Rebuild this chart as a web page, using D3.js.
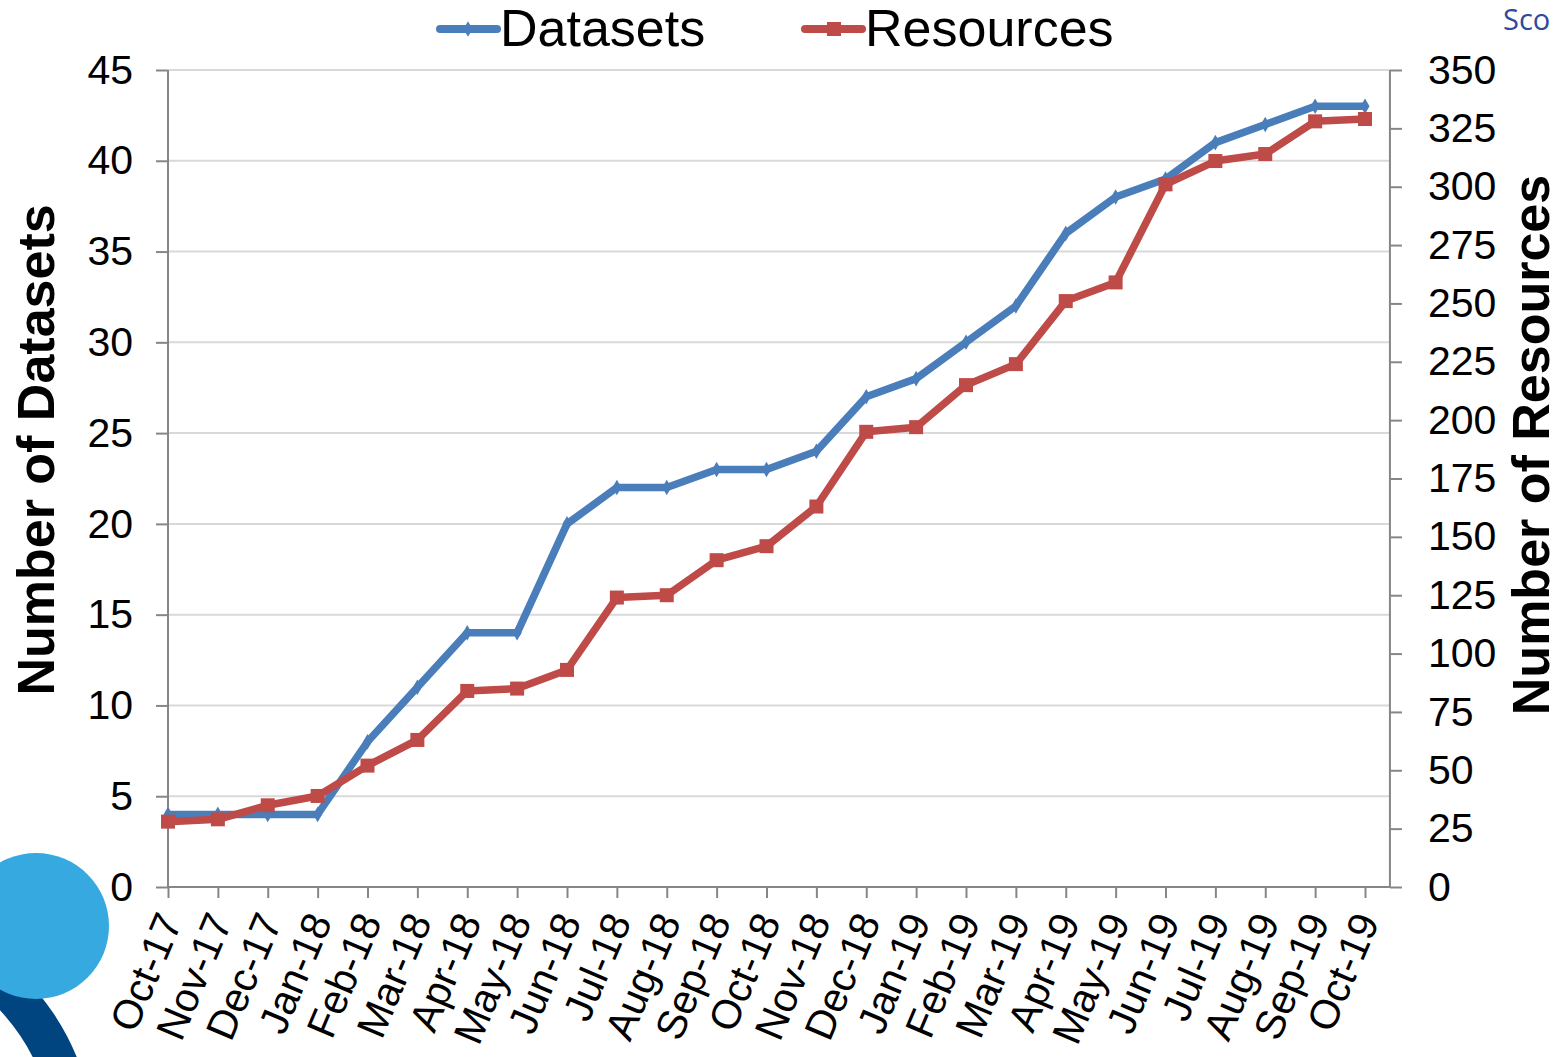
<!DOCTYPE html>
<html>
<head>
<meta charset="utf-8">
<script src="https://cdn.jsdelivr.net/npm/d3@7"></script>
<style>
  html, body { margin: 0; padding: 0; background: #fff; }
  svg { display: block; font-family: "Liberation Sans", Arial, sans-serif; }
</style>
</head>
<body>
<svg id="chart" width="1565" height="1057"></svg>
<script>
const months = ["Oct-17","Nov-17","Dec-17","Jan-18","Feb-18","Mar-18","Apr-18","May-18","Jun-18","Jul-18","Aug-18","Sep-18","Oct-18","Nov-18","Dec-18","Jan-19","Feb-19","Mar-19","Apr-19","May-19","Jun-19","Jul-19","Aug-19","Sep-19","Oct-19"];
const datasets = [4,4,4,4,8,11,14,14,20,22,22,23,23,24,27,28,30,32,36,38,39,41,42,43,43];
const resources = [28,29,35,39,52,63,84,85,93,124,125,140,146,163,195,197,215,224,251,259,301,311,314,328,329];
const leftTicks = [0,5,10,15,20,25,30,35,40,45];
const rightTicks = [0,25,50,75,100,125,150,175,200,225,250,275,300,325,350];
const seriesNames = ["Datasets","Resources"];

const blue = "#4a7ebb", red = "#be4b48";
const svg = d3.select("#chart");

// decorative circles bottom-left
const deco = svg.append("g");
const defs = svg.append("defs");
defs.append("clipPath").attr("id","circClip").append("circle").attr("cx",36).attr("cy",926).attr("r",73);
const ringArc = d3.arc().innerRadius(205).outerRadius(245).startAngle(0).endAngle(Math.PI);
deco.append("path").attr("d", ringArc).attr("transform","translate(-150,1150)").attr("fill","#00457f");
deco.append("circle").attr("cx",36).attr("cy",926).attr("r",73).attr("fill","#35a9e0");
deco.append("path").attr("d", ringArc).attr("transform","translate(-150,1150)").attr("fill","#0a80c4").attr("clip-path","url(#circClip)");

const x = d3.scalePoint().domain(months).range([168, 1365]);
const xRight = x.range()[1] + x.step() / 2;
const yL = d3.scaleLinear().domain([0,45]).range([887,70]);
const yR = d3.scaleLinear().domain([0,350]).range([887,70]);

// gridlines
svg.append("g").selectAll("line").data(leftTicks.slice(1)).join("line")
  .attr("x1",168).attr("x2",xRight).attr("y1",d=>yL(d)).attr("y2",d=>yL(d))
  .attr("stroke","#d9d9d9").attr("stroke-width",2);

// left axis
const gL = svg.append("g").attr("transform","translate(168,0)")
  .call(d3.axisLeft(yL).tickValues(leftTicks).tickSize(12).tickPadding(23));
gL.selectAll("path,line").attr("stroke","#868686").attr("stroke-width",2);
gL.select(".domain").attr("d", `M0,${yL(0)}V${yL(45)}`);
gL.selectAll("text").attr("font-size",41).attr("fill","#000").attr("font-family","Liberation Sans, Arial, sans-serif");

// right axis
const gR = svg.append("g").attr("transform",`translate(${xRight},0)`)
  .call(d3.axisRight(yR).tickValues(rightTicks).tickSize(12).tickPadding(26));
gR.selectAll("path,line").attr("stroke","#868686").attr("stroke-width",2);
gR.select(".domain").attr("d", `M0,${yR(0)}V${yR(350)}`);
gR.selectAll("text").attr("font-size",41).attr("fill","#000").attr("font-family","Liberation Sans, Arial, sans-serif");

// bottom axis
const gB = svg.append("g").attr("transform","translate(0,887)")
  .call(d3.axisBottom(x).tickSize(11).tickFormat(""));
gB.selectAll("path,line").attr("stroke","#868686").attr("stroke-width",2);
gB.select(".domain").attr("d", `M168,0H${xRight}`);
svg.append("g").selectAll("text").data(months).join("text")
  .attr("transform", d => `translate(${x(d)+15},921) rotate(-67)`)
  .attr("text-anchor","end")
  .attr("font-size",41).attr("fill","#000")
  .text(d => d);

// lines
const lineL = d3.line().x((d,i)=>x(months[i])).y(d=>yL(d));
const lineR = d3.line().x((d,i)=>x(months[i])).y(d=>yR(d));
svg.append("path").attr("d", lineL(datasets)).attr("fill","none").attr("stroke",blue).attr("stroke-width",7.5).attr("stroke-linejoin","round");
svg.append("g").selectAll("path").data(datasets).join("path")
  .attr("d", d3.symbol(d3.symbolDiamond, 70))
  .attr("transform",(d,i)=>`translate(${x(months[i])},${yL(d)})`)
  .attr("fill",blue);
svg.append("path").attr("d", lineR(resources)).attr("fill","none").attr("stroke",red).attr("stroke-width",7.5).attr("stroke-linejoin","round");
svg.append("g").selectAll("rect").data(resources).join("rect")
  .attr("x",(d,i)=>x(months[i])-7).attr("y",d=>yR(d)-7)
  .attr("width",14).attr("height",14).attr("fill",red);

// axis titles
svg.append("text").attr("transform","translate(54,450) rotate(-90)")
  .attr("text-anchor","middle").attr("font-size",52).attr("font-weight","bold").attr("fill","#000")
  .text("Number of Datasets");
svg.append("text").attr("transform","translate(1549,445) rotate(-90)")
  .attr("text-anchor","middle").attr("font-size",52).attr("font-weight","bold").attr("fill","#000")
  .text("Number of Resources");

// legend
const legend = [
  {name: seriesNames[0], color: blue, x: 440, marker: "diamond"},
  {name: seriesNames[1], color: red, x: 805, marker: "square"}
];
const lg = svg.append("g");
legend.forEach(l => {
  lg.append("line").attr("x1",l.x).attr("x2",l.x+57).attr("y1",29).attr("y2",29)
    .attr("stroke",l.color).attr("stroke-width",8).attr("stroke-linecap","round");
  if (l.marker === "square") {
    lg.append("rect").attr("x",l.x+22).attr("y",22).attr("width",14).attr("height",14).attr("fill",l.color);
  } else {
    lg.append("path").attr("d", d3.symbol(d3.symbolDiamond,70)).attr("transform",`translate(${l.x+28},29)`).attr("fill",l.color);
  }
  lg.append("text").attr("x",l.x+60).attr("y",46).attr("font-size",52).attr("fill","#000").text(l.name);
});

// corner text
svg.append("text").attr("x",1503).attr("y",30).attr("font-size",29)
  .attr("font-family","Open Sans, sans-serif").attr("fill","#2e4a9e").text("Sco");
</script>
</body>
</html>
